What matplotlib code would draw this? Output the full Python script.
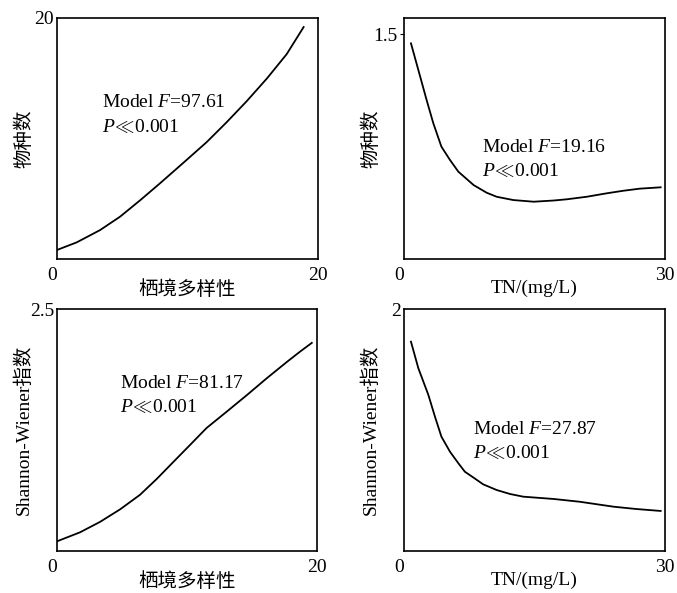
import matplotlib
matplotlib.use("Agg")
from matplotlib import pyplot as plt

plt.rcParams['font.family'] = ['Liberation Serif', 'Noto Sans CJK SC', 'DejaVu Sans']
plt.rcParams['mathtext.fontset'] = 'custom'
plt.rcParams['mathtext.rm'] = 'Liberation Serif'
plt.rcParams['mathtext.it'] = 'Liberation Serif:italic'
plt.rcParams['font.size'] = 14

# top-left: species count vs habitat diversity
habX = [0, 1.51, 3.3, 4.83, 6.4, 7.89, 9.7, 11.47, 13.0, 14.54, 16.1, 17.6, 18.9]
habSpecies = [0.75, 1.38, 2.4, 3.51, 4.9, 6.28, 8.0, 9.7, 11.35, 13.1, 15.0, 17.0, 19.25]
# bottom-left: Shannon-Wiener vs habitat diversity
habX2 = [0, 1.77, 3.3, 4.85, 6.38, 7.67, 8.95, 10.23, 11.5, 13.05, 14.6, 16.13, 17.7, 18.7, 19.6]
habShannon = [0.10, 0.193, 0.30, 0.43, 0.58, 0.744, 0.92, 1.095, 1.27, 1.439, 1.61, 1.784, 1.955, 2.06, 2.15]
# top-right: species count vs TN
tnX = [0.8, 1.65, 2.6, 3.37, 4.3, 5.29, 6.25, 8.0, 9.5, 10.65, 12.57, 14.9, 17.2,
       18.7, 21.0, 23.3, 25.2, 27.1, 29.5]
tnSpecies = [1.438, 1.26, 1.06, 0.905, 0.749, 0.66, 0.582, 0.493, 0.442, 0.415, 0.393, 0.382, 0.39,
             0.398, 0.415, 0.438, 0.455, 0.469, 0.478]
# bottom-right: Shannon-Wiener vs TN
tnX2 = [0.8, 1.65, 2.8, 3.56, 4.3, 5.29, 6.25, 7.0, 8.0, 9.1, 10.65, 12.2, 13.7, 17.2,
        20.2, 24.1, 26.7, 29.5]
tnShannon = [1.73, 1.51, 1.29, 1.11, 0.945, 0.82, 0.725, 0.655, 0.606, 0.551, 0.504, 0.471, 0.449, 0.43,
             0.407, 0.366, 0.347, 0.331]

panels = [
    # rect (px), x, y, xmax, ymax, top y tick, xlabel, ylabel, F, text centre (axes coords)
    ([57, 18, 318, 259], habX, habSpecies, 20, 20, '20', '栖境多样性', '物种数', '97.61', (0.172, 0.598)),
    ([404, 18, 665, 259], tnX, tnSpecies, 30, 1.607, '1.5', 'TN/(mg/L)', '物种数', '19.16', (0.299, 0.413)),
    ([57, 309, 317, 551], habX2, habShannon, 20, 2.5, '2.5', '栖境多样性', 'Shannon-Wiener指数', '81.17', (0.242, 0.643)),
    ([404, 309, 665, 551], tnX2, tnShannon, 30, 2.0, '2', 'TN/(mg/L)', 'Shannon-Wiener指数', '27.87', (0.264, 0.452)),
]

W, H = 677, 593
fig = plt.figure(figsize=(W / 100, H / 100), dpi=100)

for rect, x, y, xmax, ymax, ylab, xlabel, ylabel, fval, tpos in panels:
    l, t, r, b = rect
    axw, axh = r - l, b - t
    ax = fig.add_axes([l / W, 1 - b / H, axw / W, axh / H])
    ax.plot(x, y, color='black', linewidth=1.3)
    ax.set_xlim(0, xmax)
    ax.set_ylim(0, ymax)
    ax.set_xticks([0, xmax])
    ax.set_xticklabels(['0', str(xmax)])
    ax.set_yticks([float(ylab)])
    ax.set_yticklabels([ylab])
    ax.tick_params(axis='x', length=0, pad=6, labelsize=14)
    ax.tick_params(axis='y', length=3 if ylab == '1.5' else 0, pad=2, labelsize=14)
    ax.get_xticklabels()[0].set_horizontalalignment('right')
    for s in ax.spines.values():
        s.set_linewidth(1.2)
    ax.set_xlabel(xlabel, fontsize=14)
    ax.set_ylabel(ylabel, fontsize=14)
    ax.xaxis.set_label_coords(0.5, -21 / axh)
    ax.yaxis.set_label_coords(-24 / axw, 0.5)
    ax.text(tpos[0], tpos[1], 'Model $F$=' + fval + '\n$P\\!\\ll\\!$0.001', transform=ax.transAxes,
            fontsize=14, va='center', ha='left', linespacing=1.45)

fig.savefig('out.png', dpi=100)
